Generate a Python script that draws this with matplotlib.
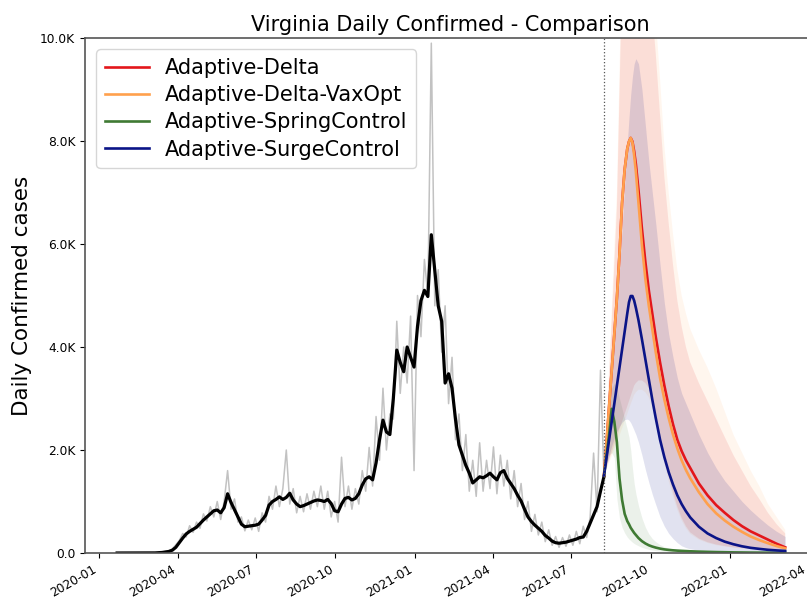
import datetime as dt
import matplotlib
matplotlib.use('Agg')
from matplotlib import pyplot as plt
import matplotlib.dates as mdates
from matplotlib.ticker import FuncFormatter

# observed data, one value every 4 days starting 2020-01-22
obs_start = dt.datetime(2020, 1, 22)
obs_step = 4
daily_cases = [0, 0, 0, 0, 0, 0, 0, 0, 0, 0, 0, 3, 8, 15, 30, 45, 80, 160, 240, 380,
               310, 530, 400, 600, 480, 760, 620, 900, 700, 1000, 650, 1000, 1600, 850, 1050, 600, 700, 430, 640, 450,
               680, 420, 780, 600, 1100, 850, 1300, 900, 1250, 2000, 950, 1250, 780, 1100, 800, 1150, 850, 1200, 900, 1300,
               850, 1200, 700, 1000, 600, 1860, 900, 1300, 850, 1250, 950, 1600, 1200, 2050, 1300, 2650, 1800, 3200, 2000, 2700,
               2600, 4500, 3100, 4000, 3300, 4600, 1600, 5000, 4200, 5700, 5000, 9900, 4800, 5500, 3900, 4800, 2900, 3800, 2200, 2700,
               1600, 2300, 1200, 1800, 1100, 2140, 1200, 1800, 1250, 2060, 1150, 1900, 1300, 1800, 1050, 1600, 900, 1350, 650, 1000,
               420, 750, 350, 600, 220, 450, 150, 320, 110, 300, 130, 350, 150, 420, 180, 520, 300, 700, 1940, 800,
               3550, 1500]
avg_cases = [0, 0, 0, 0, 0, 0, 0, 0, 0, 0, 0, 2, 5, 10, 20, 30, 55, 110, 200, 290,
             370, 420, 460, 500, 570, 640, 700, 760, 820, 835, 780, 880, 1150, 980, 840, 700, 560, 510, 520, 530,
             540, 560, 640, 730, 930, 1000, 1040, 1090, 1040, 1080, 1160, 1030, 950, 900, 920, 950, 980, 1010, 1030, 1020,
             1000, 1040, 960, 820, 800, 950, 1060, 1080, 1030, 1060, 1150, 1320, 1440, 1480, 1420, 1750, 2200, 2580, 2350, 2300,
             3000, 3940, 3700, 3520, 4000, 3800, 3610, 4400, 4900, 5100, 4980, 6180, 5500, 4800, 4500, 3300, 3480, 3200, 2600, 2100,
             1900, 1700, 1550, 1360, 1420, 1480, 1460, 1500, 1550, 1480, 1420, 1560, 1600, 1450, 1350, 1250, 1120, 1010, 850, 700,
             610, 540, 480, 420, 340, 290, 230, 200, 190, 200, 210, 230, 250, 270, 300, 310, 420, 580, 740, 900,
             1200, 1480]

# projections, days after 2021-08-08
proj_start = dt.datetime(2021, 8, 8)
proj_days = [0, 3, 6, 9, 12, 15, 18, 21, 24, 27,
             29, 31, 33, 35, 37, 40, 44, 48, 52, 56,
             60, 65, 70, 75, 80, 85, 90, 95, 100, 110,
             120, 130, 140, 150, 160, 170, 180, 190, 200, 210]

delta_mid = [1500, 2150, 2850, 3550, 4250, 4950, 5800, 6800, 7450, 7850,
             7990, 8060, 7990, 7800, 7550, 7050, 6300, 5650, 5100, 4650,
             4200, 3700, 3250, 2850, 2500, 2200, 1980, 1800, 1650, 1350,
             1120, 930, 780, 640, 520, 420, 340, 260, 180, 110]
delta_lo = [1500, 1650, 1800, 1950, 2100, 2250, 2400, 2550, 2700, 2850,
            2950, 3050, 3150, 3250, 3300, 3350, 3350, 3300, 3200, 3000,
            2700, 2250, 1850, 1500, 1180, 900, 680, 520, 400, 280,
            210, 165, 135, 110, 95, 82, 72, 65, 58, 52]
delta_hi = [1500, 2400, 3450, 4500, 5600, 6700, 8900, 11200, 12700, 13400,
            13700, 13800, 13850, 13800, 13700, 13400, 12800, 12100, 11300, 10500,
            9700, 8500, 7300, 6400, 5600, 4900, 4400, 4000, 3700, 3300,
            2950, 2600, 2250, 1900, 1600, 1300, 1050, 780, 560, 380]

vax_mid = [1500, 2150, 2850, 3550, 4250, 4950, 5800, 6800, 7450, 7850,
           7990, 8060, 7970, 7720, 7400, 6800, 5980, 5320, 4800, 4350,
           3900, 3400, 2980, 2620, 2300, 2030, 1800, 1610, 1450, 1180,
           950, 770, 630, 510, 410, 320, 250, 190, 135, 90]
vax_lo = [1500, 1620, 1750, 1880, 2010, 2150, 2280, 2420, 2560, 2700,
          2800, 2890, 2980, 3070, 3120, 3170, 3170, 3120, 3020, 2830,
          2550, 2120, 1740, 1400, 1100, 840, 630, 480, 370, 260,
          195, 152, 125, 102, 88, 76, 67, 60, 54, 48]
vax_hi = [1500, 2500, 3600, 4700, 5900, 7000, 9300, 11800, 13300, 14100,
          14400, 14500, 14550, 14500, 14400, 14100, 13500, 12800, 12000, 11200,
          10400, 9200, 7900, 7000, 6200, 5500, 5000, 4650, 4350, 3950,
          3600, 3200, 2750, 2300, 1950, 1600, 1300, 950, 700, 450]

spring_mid = [1500, 1900, 2300, 2800, 2550, 2150, 1450, 1030, 760, 620,
              560, 490, 440, 390, 350, 290, 230, 185, 150, 125,
              105, 85, 70, 60, 52, 46, 41, 37, 33, 27,
              22, 18, 15, 12, 10, 8, 7, 6, 5, 4]
spring_lo = [1500, 1750, 1900, 1950, 1850, 1050, 680, 500, 390, 310,
             270, 240, 210, 185, 165, 140, 110, 88, 70, 57,
             47, 38, 31, 26, 22, 19, 16, 14, 12, 10,
             8, 6, 5, 4, 3, 3, 2, 2, 2, 2]
spring_hi = [1500, 2200, 2800, 3200, 3300, 3200, 3000, 2800, 2600, 2400,
             2250, 2000, 1650, 1350, 1150, 920, 680, 500, 370, 280,
             220, 160, 120, 95, 78, 65, 55, 48, 42, 34,
             28, 23, 19, 16, 13, 11, 9, 8, 7, 6]

surge_mid = [1500, 1850, 2200, 2550, 2900, 3250, 3600, 3950, 4300, 4650,
             4870, 4990, 4990, 4900, 4760, 4520, 4150, 3760, 3370, 2980,
             2620, 2200, 1860, 1570, 1330, 1120, 950, 810, 690, 510,
             380, 290, 220, 170, 130, 100, 80, 62, 50, 40]
surge_lo = [1500, 1700, 1900, 2080, 2230, 2360, 2460, 2540, 2590, 2600,
            2580, 2530, 2460, 2380, 2300, 2150, 1900, 1620, 1370, 1140,
            940, 700, 520, 380, 280, 200, 140, 105, 80, 55,
            40, 30, 24, 19, 16, 13, 11, 10, 9, 8]
surge_hi = [1500, 2200, 2900, 3600, 4250, 4850, 5500, 6300, 7150, 7950,
            8450, 8900, 9250, 9500, 9600, 9500, 9000, 8300, 7600, 7000,
            6400, 5600, 4850, 4250, 3800, 3400, 3100, 2900, 2700, 2300,
            1950, 1650, 1400, 1200, 1000, 830, 680, 540, 420, 320]

scenarios = [
    ('Adaptive-Delta', delta_mid, delta_lo, delta_hi, '#e3161b', 0.11),
    ('Adaptive-Delta-VaxOpt', vax_mid, vax_lo, vax_hi, '#ffa04d', 0.09),
    ('Adaptive-SpringControl', spring_mid, spring_lo, spring_hi, '#3f7a33', 0.1),
    ('Adaptive-SurgeControl', surge_mid, surge_lo, surge_hi, '#0b1487', 0.12),
]

obs_dates = [obs_start + dt.timedelta(days=obs_step * i) for i in range(len(avg_cases))]
proj_dates = [proj_start + dt.timedelta(days=d) for d in proj_days]

fig = plt.figure(figsize=(8.07, 5.99), dpi=100)
ax = fig.add_axes([85 / 807, 46 / 599, 730 / 807, 515 / 599])

for name, mid, lo, hi, col, alpha in scenarios:
    ax.fill_between(proj_dates, lo, hi, color=col, alpha=alpha, linewidth=0)

ax.plot(obs_dates, daily_cases, color='#c2c2c2', lw=1.1)
ax.plot(obs_dates, avg_cases, color='black', lw=2.3)

for name, mid, lo, hi, col, alpha in scenarios:
    ax.plot(proj_dates, mid, color=col, lw=1.9, label=name)

ax.axvline(proj_start, color='#555555', ls=':', lw=0.9)

x0 = mdates.date2num(dt.datetime(2020, 1, 1))
ax.set_xlim(x0 - 16.2, x0 + 829.5)
ax.set_ylim(0, 10000)
ax.set_yticks([0, 2000, 4000, 6000, 8000, 10000])
ax.yaxis.set_major_formatter(FuncFormatter(lambda v, p: '0.0' if v == 0 else '%.1fK' % (v / 1000)))
ax.xaxis.set_major_locator(mdates.MonthLocator(bymonth=[1, 4, 7, 10]))
ax.xaxis.set_major_formatter(mdates.DateFormatter('%Y-%m'))
plt.setp(ax.get_xticklabels(), rotation=30, ha='right', fontsize=8.8)
plt.setp(ax.get_yticklabels(), fontsize=8.8)
for s in ax.spines.values():
    s.set_color('#555555')
    s.set_linewidth(1.2)

ax.set_title('Virginia Daily Confirmed - Comparison', fontsize=15, pad=5)
ax.set_ylabel('Daily Confirmed cases', fontsize=15.5, labelpad=6)
ax.legend(loc='upper left', fontsize=15, borderaxespad=0.55, labelspacing=0.35,
          handlelength=2.1, borderpad=0.4)

fig.savefig('out.png', dpi=100)
